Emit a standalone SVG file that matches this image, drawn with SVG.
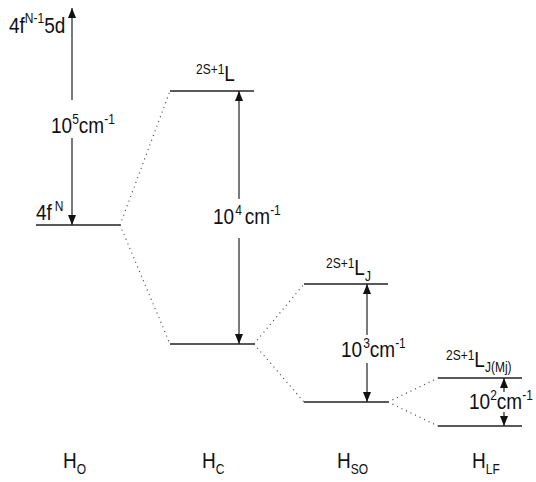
<svg xmlns="http://www.w3.org/2000/svg" width="536" height="482" viewBox="0 0 536 482">
<defs>
<style>
text{font-family:"Liberation Sans",Arial,sans-serif;fill:#111}
.big{font-size:19px}
.sup{font-size:12px}
.lvl{stroke:#222;stroke-width:1.3;fill:none}
.dot{stroke:#444;stroke-width:1.2;stroke-dasharray:1 4;fill:none}
.arr{stroke:#222;stroke-width:1.2;fill:none}
</style>
<marker id="ah" markerUnits="userSpaceOnUse" markerWidth="10" markerHeight="8" refX="10" refY="4" orient="auto">
<path d="M0,0 L10,4 L0,8 z" fill="#111"/>
</marker>
</defs>

<g id="levels">
<g id="lvl-4fN"><line class="lvl" x1="36" y1="225" x2="120" y2="225"/><text class="big" transform="translate(36 220) scale(1 1.15)">4f<tspan class="sup" dx="3" dy="-8">N</tspan></text></g>
<g id="lvl-L"><line class="lvl" x1="170" y1="91" x2="254" y2="91"/><text transform="translate(196 81) scale(1 1.15)"><tspan class="sup" dy="-6">2S+1</tspan><tspan class="big" dy="6">L</tspan></text></g>
<g id="lvl-Hc-low"><line class="lvl" x1="170" y1="344" x2="254" y2="344"/></g>
<g id="lvl-LJ"><line class="lvl" x1="304" y1="284" x2="388" y2="284"/><text transform="translate(326 275) scale(1 1.15)"><tspan class="sup" dy="-6">2S+1</tspan><tspan class="big" dy="6">L</tspan><tspan class="sup" dy="5">J</tspan></text></g>
<g id="lvl-Hso-low"><line class="lvl" x1="304" y1="402" x2="388" y2="402"/></g>
<g id="lvl-LJMj"><line class="lvl" x1="438" y1="378" x2="522" y2="378"/><text transform="translate(446 367) scale(1 1.15)"><tspan class="sup" dy="-6">2S+1</tspan><tspan class="big" dy="6">L</tspan><tspan class="sup" dy="4">J(Mj)</tspan></text></g>
<g id="lvl-LF-low"><line class="lvl" x1="438" y1="426" x2="522" y2="426"/></g>
<g id="lvl-5d"><text transform="translate(9 33) scale(1 1.15)"><tspan class="big">4f</tspan><tspan class="sup" dy="-9">N-1</tspan><tspan class="big" dy="9">5d</tspan></text></g>
</g>

<g id="connectors">
<line class="dot" x1="120" y1="225" x2="170" y2="91"/>
<line class="dot" x1="120" y1="225" x2="170" y2="344"/>
<line class="dot" x1="254" y1="344" x2="304" y2="284"/>
<line class="dot" x1="254" y1="344" x2="304" y2="402"/>
<line class="dot" x1="388" y1="402" x2="438" y2="378"/>
<line class="dot" x1="388" y1="402" x2="438" y2="426"/>

<line class="arr" x1="72" y1="100" x2="72" y2="8" marker-end="url(#ah)"/>
<line class="arr" x1="72" y1="138" x2="72" y2="225" marker-end="url(#ah)"/>
<line class="arr" x1="239" y1="199" x2="239" y2="91" marker-end="url(#ah)"/>
<line class="arr" x1="239" y1="238" x2="239" y2="344" marker-end="url(#ah)"/>
<line class="arr" x1="367" y1="335" x2="367" y2="284" marker-end="url(#ah)"/>
<line class="arr" x1="367" y1="363" x2="367" y2="402" marker-end="url(#ah)"/>
<line class="arr" x1="504" y1="392" x2="504" y2="378" marker-end="url(#ah)"/>
<line class="arr" x1="504" y1="412" x2="504" y2="426" marker-end="url(#ah)"/>
</g>

<g id="gap-labels">
<text transform="translate(51 133) scale(1 1.15)"><tspan class="big">10</tspan><tspan class="sup" dy="-8">5</tspan><tspan class="big" dy="8">cm</tspan><tspan class="sup" dy="-8">-1</tspan></text>
<text transform="translate(213 224) scale(1 1.15)"><tspan class="big">10</tspan><tspan class="sup" dx="1" dy="-8">4</tspan><tspan class="big" dx="3" dy="8">cm</tspan><tspan class="sup" dy="-8">-1</tspan></text>
<text transform="translate(341 357) scale(1 1.15)"><tspan class="big">10</tspan><tspan class="sup" dx="1" dy="-8">3</tspan><tspan class="big" dy="8">cm</tspan><tspan class="sup" dy="-8">-1</tspan></text>
<text transform="translate(469 409) scale(1 1.15)"><tspan class="big">10</tspan><tspan class="sup" dy="-8">2</tspan><tspan class="big" dy="8">cm</tspan><tspan class="sup" dy="-8">-1</tspan></text>
</g>

<g id="axis-labels">
<text transform="translate(63 468) scale(1 1.15)"><tspan class="big">H</tspan><tspan class="sup" dy="5">O</tspan></text>
<text transform="translate(202 468) scale(1 1.15)"><tspan class="big">H</tspan><tspan class="sup" dy="5">C</tspan></text>
<text transform="translate(337 468) scale(1 1.15)"><tspan class="big">H</tspan><tspan class="sup" dy="5">SO</tspan></text>
<text transform="translate(472 468) scale(1 1.15)"><tspan class="big">H</tspan><tspan class="sup" dy="5">LF</tspan></text>
</g>
</svg>
